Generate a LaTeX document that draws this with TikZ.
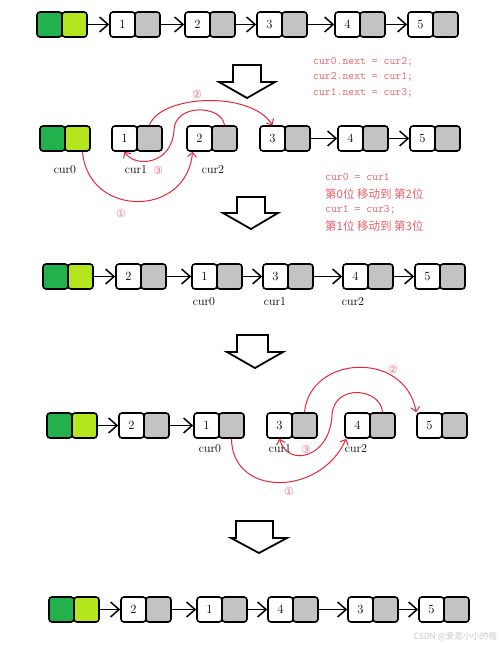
\documentclass[tikz,border=0pt]{standalone}
\usepackage{fontspec}
\newfontfamily\cjkfont{Noto Sans CJK SC}
\newfontfamily\symfont{DejaVu Sans}
\usetikzlibrary{arrows.meta,calc}
\definecolor{dgreen}{HTML}{22B14C}
\definecolor{lgreen}{HTML}{B5E61D}
\definecolor{cgray}{HTML}{C3C3C3}
\definecolor{redline}{HTML}{E6283C}
\definecolor{redtext}{HTML}{E8606E}
\definecolor{wmark}{HTML}{C8C8C8}
\tikzset{
  cell/.style={draw=black, line width=1.6pt, rounded corners=3pt, minimum width=25pt, minimum height=25pt, inner sep=0pt, font=\fontsize{12.5}{12.5}\selectfont},
  larrow/.style={line width=1.5pt, -{Straight Barb[length=8.5pt,width=15pt,line width=1.5pt]}},
  rarrow/.style={draw=redline, line width=1pt, -{Straight Barb[length=4.5pt,width=9pt,line width=1pt]}},
  bigarr/.style={draw=black, line width=1.8pt, fill=white, line join=miter},
  lbl/.style={font=\fontsize{12}{12}\selectfont, inner sep=0pt},
  circ/.style={text=redtext!85, font=\symfont\fontsize{11}{11}\selectfont, inner sep=0pt},
  code/.style={text=redtext, font=\ttfamily\fontsize{11.4}{12}\selectfont, anchor=west, inner sep=0pt},
  cjkcode/.style={text=redtext, font=\cjkfont\fontsize{11.5}{12}\selectfont, anchor=west, inner sep=0pt}
}
\newcommand{\headcells}[3]{%
  \node[cell,fill=dgreen] (#1h) at (#2+12.5,#3+12.5) {};
  \node[cell,fill=lgreen] (#1hl) at (#2+37.5,#3+12.5) {};}
\newcommand{\lnode}[4]{%
  \node[cell,fill=white] (#1) at (#2+12.5,#3+12.5) {#4};
  \node[cell,fill=cgray] (#1g) at (#2+37.5,#3+12.5) {};}
\newcommand{\bigarrow}[8]{% xl xr ytop yshaft wl wr xtip ytip
  \draw[bigarr] (#1,#3) -- (#2,#3) -- (#2,#4) -- (#6,#4) -- (#7,#8) -- (#5,#4) -- (#1,#4) -- cycle;}
\begin{document}
\begin{tikzpicture}[x=1pt,y=-1pt]
\fill[white] (0,0) rectangle (500,645);
\useasboundingbox (0,0) rectangle (500,645);

% ---------- Row 1 ----------
\headcells{r1}{37}{12}
\lnode{r1n1}{110}{12}{1}
\lnode{r1n2}{185}{12}{2}
\lnode{r1n3}{257}{12}{3}
\lnode{r1n4}{335}{12}{4}
\lnode{r1n5}{408}{12}{5}
\draw[larrow] (r1hl.east) -- (r1n1.west);
\draw[larrow] (r1n1g.east) -- (r1n2.west);
\draw[larrow] (r1n2g.east) -- (r1n3.west);
\draw[larrow] (r1n3g.east) -- (r1n4.west);
\draw[larrow] (r1n4g.east) -- (r1n5.west);

% arrow 1 and code
\bigarrow{233}{261}{65}{82}{219}{275}{247}{98}
\node[code] (c1) at (313,62) {cur0.next = cur2;};
\node[code] (c2) at (313,77) {cur2.next = cur1;};
\node[code] (c3) at (313,93) {cur1.next = cur3;};

% ---------- Row 2 ----------
\headcells{r2}{40}{126}
\lnode{r2n1}{112}{126}{1}
\lnode{r2n2}{187}{126}{2}
\lnode{r2n3}{260}{126}{3}
\lnode{r2n4}{338}{126}{4}
\lnode{r2n5}{410}{126}{5}
\draw[larrow] (r2n3g.east) -- (r2n4.west);
\draw[larrow] (r2n4g.east) -- (r2n5.west);
\node[lbl] (l2a) at (65,170) {cur0};
\node[lbl] (l2b) at (136,170) {cur1};
\node[lbl] (l2c) at (213,170) {cur2};
\node[circ] (k2c) at (158,170) {③};
\node[circ] (k2b) at (197,94) {②};
\node[circ] (k2a) at (121,213) {①};
\coordinate (m2) at (174,130);
\draw[rarrow] (r2n1g.north) .. controls (160,95) and (250,90) .. (r2n3.north);
\draw[rarrow] (r2n2g.north) .. controls (222,105) and (175,103) .. (m2) .. controls (172,165) and (135,168) .. (r2n1.south);
\draw[rarrow] ($(r2hl.south)+(5,0)$) .. controls (88,218) and (187,218) .. ($(r2n2.south)+(-7,0)$);

% code block 2
\node[code] (d1) at (325,177) {cur0 = cur1};
\node[cjkcode] (d2) at (325,194) {第0位 移动到 第2位};
\node[code] (d3) at (325,210) {cur1 = cur3;};
\node[cjkcode] (d4) at (325,226) {第1位 移动到 第3位};

\bigarrow{237}{265}{197}{213}{223}{278}{251}{229}

% ---------- Row 3 ----------
\headcells{r3}{43}{264}
\lnode{r3n2}{116}{264}{2}
\lnode{r3n1}{192}{264}{1}
\lnode{r3n3}{263}{264}{3}
\lnode{r3n4}{343}{264}{4}
\lnode{r3n5}{415}{264}{5}
\draw[larrow] (r3hl.east) -- (r3n2.west);
\draw[larrow] (r3n2g.east) -- (r3n1.west);
\draw[larrow] (r3n1g.east) -- (r3n3.west);
\draw[larrow] (r3n3g.east) -- (r3n4.west);
\draw[larrow] (r3n4g.east) -- (r3n5.west);
\node[lbl] (l3a) at (204,302) {cur0};
\node[lbl] (l3b) at (275,302) {cur1};
\node[lbl] (l3c) at (353,302) {cur2};

\bigarrow{237}{268}{335}{352}{227}{283}{255}{368}

% ---------- Row 4 ----------
\headcells{r4}{47}{413}
\lnode{r4n2}{119}{413}{2}
\lnode{r4n1}{194}{413}{1}
\lnode{r4n3}{267}{413}{3}
\lnode{r4n4}{345}{413}{4}
\lnode{r4n5}{417}{413}{5}
\draw[larrow] (r4hl.east) -- (r4n2.west);
\draw[larrow] (r4n2g.east) -- (r4n1.west);
\node[lbl] (l4a) at (210,449) {cur0};
\node[lbl] (l4b) at (280,449) {cur1};
\node[lbl] (l4c) at (356,449) {cur2};
\node[circ] (k4c) at (306,449) {③};
\node[circ] (k4b) at (393,369) {②};
\node[circ] (k4a) at (289,491) {①};
\coordinate (m4) at (332,415);
\draw[rarrow] (r4n3g.north) .. controls (310,355) and (405,350) .. (r4n5.north west);
\draw[rarrow] (r4n4g.north) .. controls (381,388) and (334,383) .. (m4) .. controls (330,458) and (288,468) .. (r4n3.south);
\draw[rarrow] (r4n1g.south) .. controls (232,497) and (320,497) .. ($(r4n4.south west)+(2,0)$);

\bigarrow{236}{273}{521}{538}{231}{287}{259}{553}

% ---------- Row 5 ----------
\headcells{r5}{49}{597}
\lnode{r5n2}{121}{597}{2}
\lnode{r5n1}{197}{597}{1}
\lnode{r5n4}{268}{597}{4}
\lnode{r5n3}{348}{597}{3}
\lnode{r5n5}{419}{597}{5}
\draw[larrow] (r5hl.east) -- (r5n2.west);
\draw[larrow] (r5n2g.east) -- (r5n1.west);
\draw[larrow] (r5n1g.east) -- (r5n4.west);
\draw[larrow] (r5n4g.east) -- (r5n3.west);
\draw[larrow] (r5n3g.east) -- (r5n5.west);

\node[anchor=east, text=wmark, font=\cjkfont\fontsize{8.5}{9}\selectfont, inner sep=0pt] (wm) at (497,637) {CSDN @爱是小小的癌};
\end{tikzpicture}
\end{document}
